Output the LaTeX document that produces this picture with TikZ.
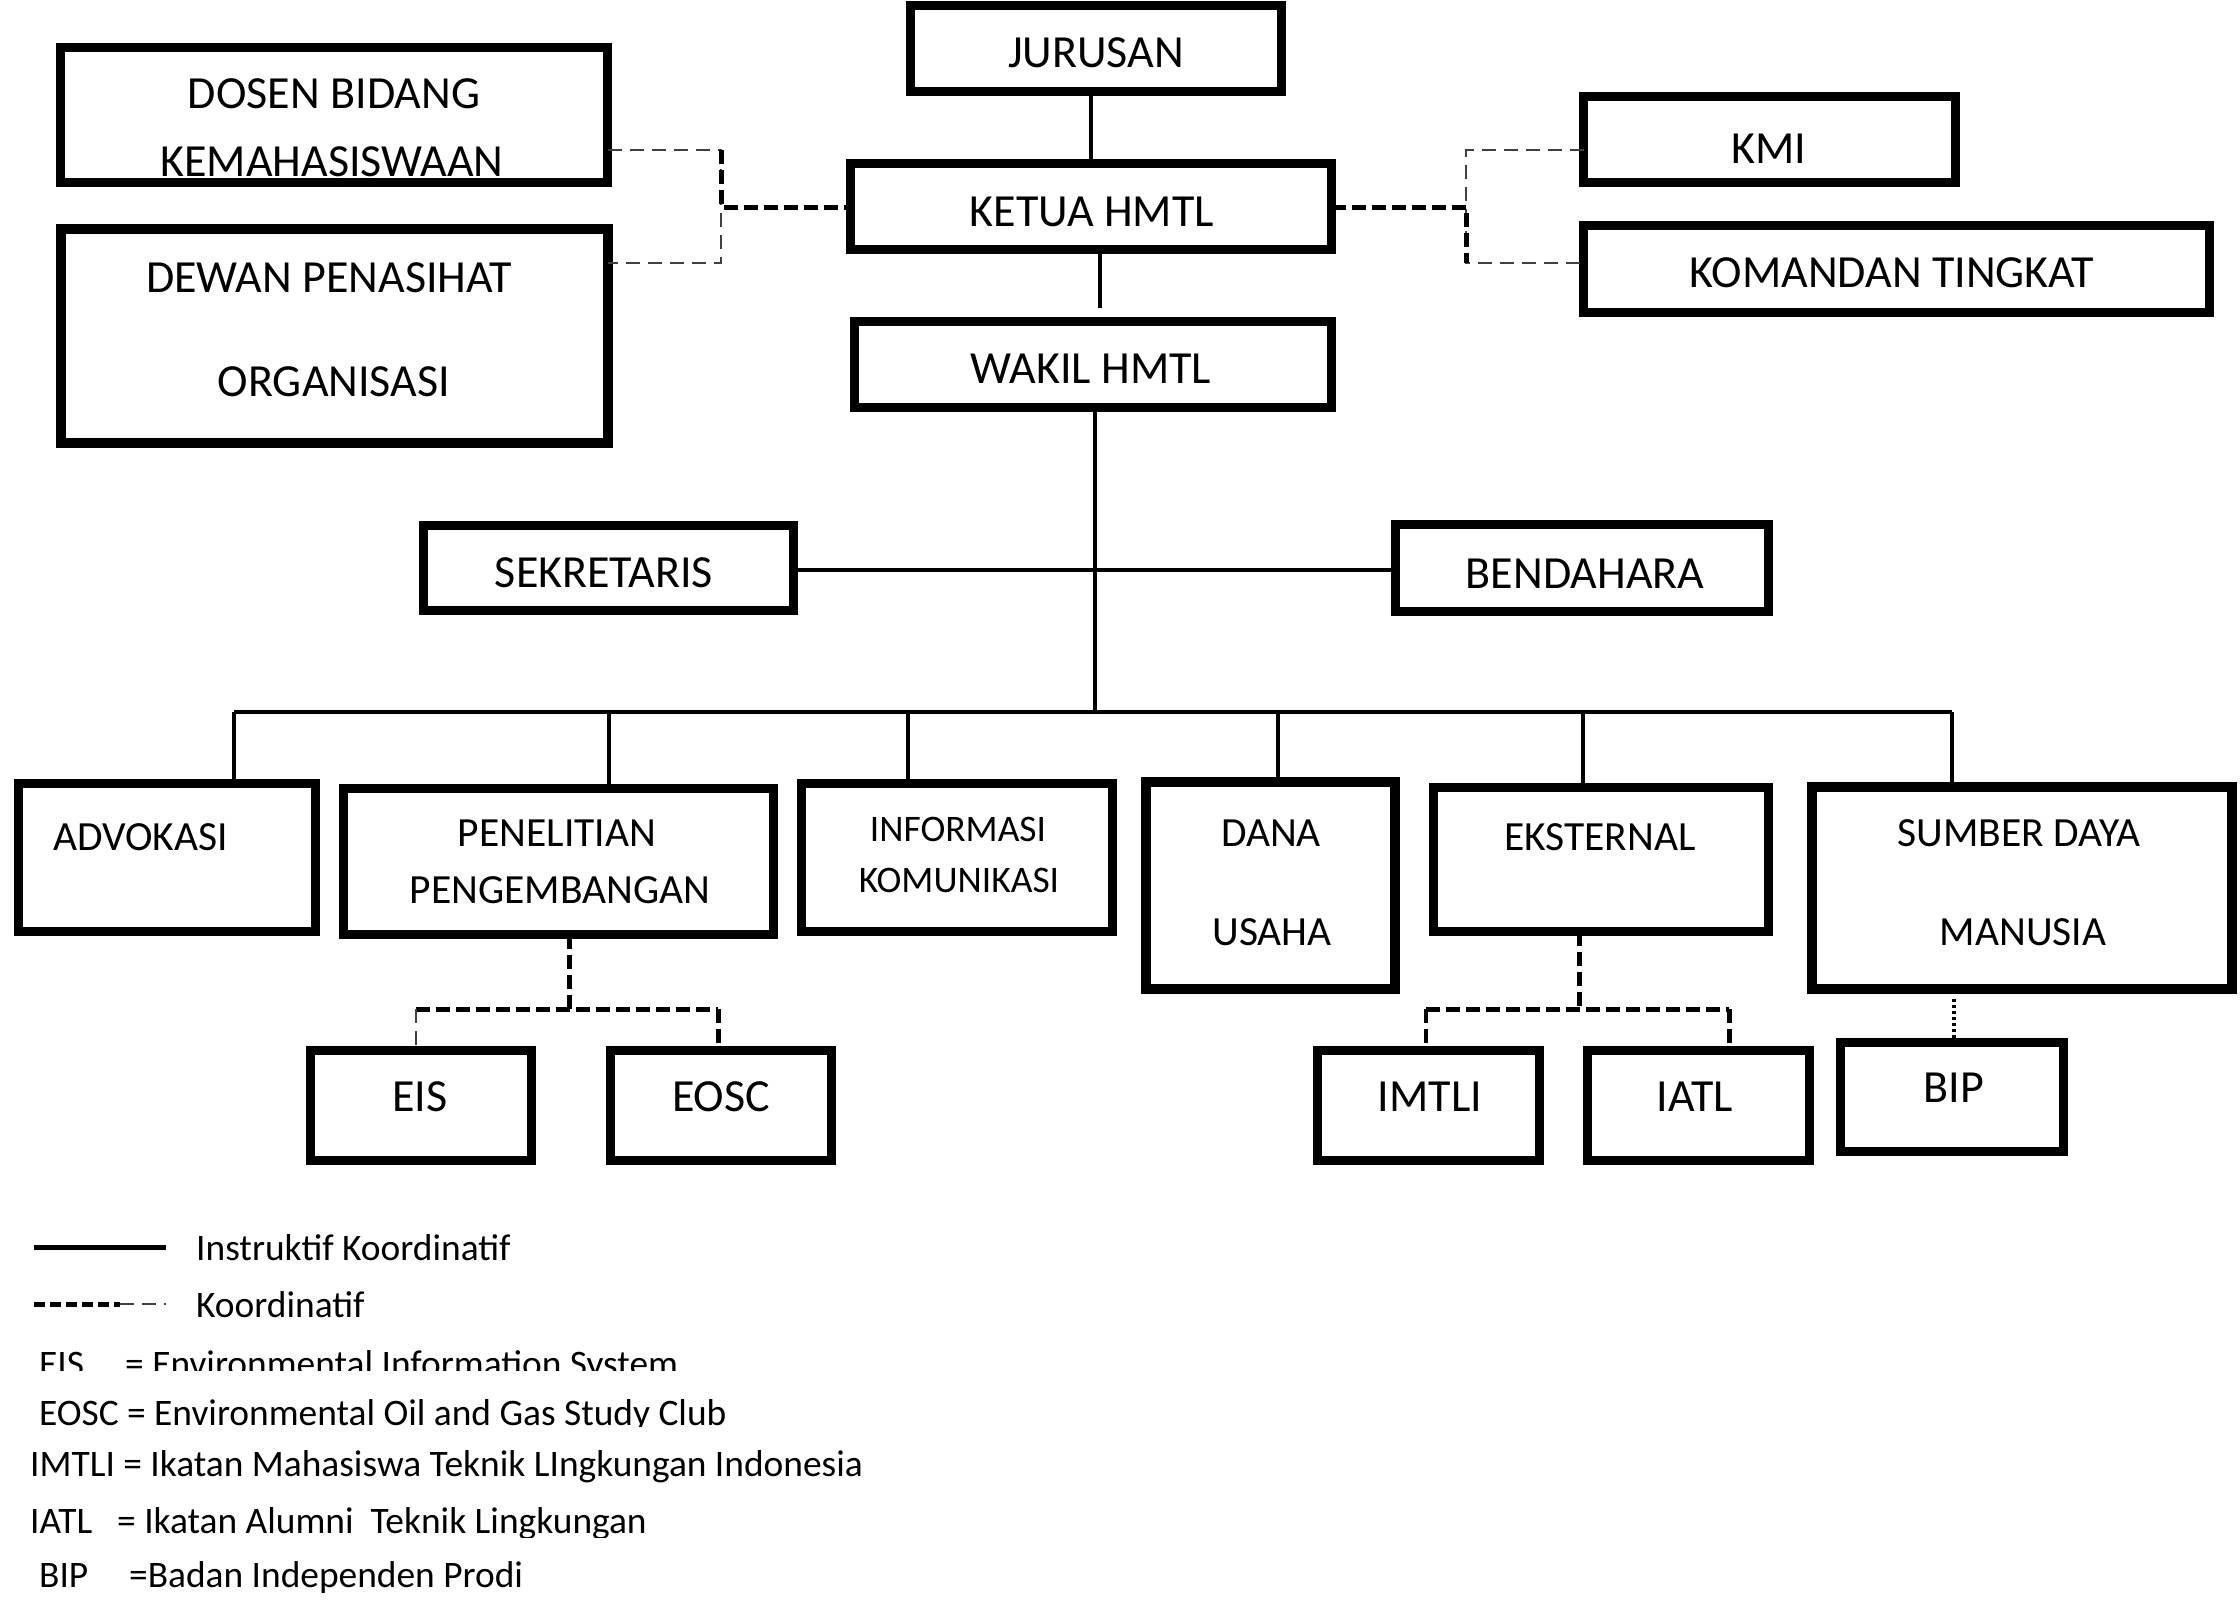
\documentclass[tikz,border=0pt]{standalone}
\usepackage{fontspec}
\setmainfont{Carlito}
\tikzset{
 box/.style={draw, line width=9pt, inner sep=0pt, outer sep=0pt, rectangle},
 lbl/.style={inner sep=0pt, font=\fontsize{46}{55}\selectfont, anchor=base},
 lmd/.style={lbl, font=\fontsize{41.5}{50}\selectfont},
 lsm/.style={lbl, font=\fontsize{37.5}{45}\selectfont},
 leg/.style={inner sep=0pt, anchor=base west, font=\fontsize{37.4}{45}\selectfont},
 conn/.style={line width=3.5pt},
 thickdash/.style={line width=5pt, dash pattern=on 14pt off 6pt},
 thindash/.style={line width=2pt, dash pattern=on 14pt off 8pt, black!75},
 dotl/.style={line width=3.5pt, dash pattern=on 3pt off 3pt},
}
\newcommand\ob[6][]{\node[box,#1,minimum width={#5-#3-9},minimum height={#6-#4-9}] (#2) at ({(#3+#5)/2},{(#4+#6)/2}) {};}
\begin{document}
\begin{tikzpicture}[x=1pt,y=-1pt]
\useasboundingbox (0,0) rectangle (2240,1609);
\fill[white] (0,0) rectangle (2240,1609);
% boxes
\ob{jur}{906}{1}{1286}{96}
\ob{dosen}{56}{43}{612}{187}
\ob[line width=10pt]{dewan}{56}{224}{612}{447}
\ob{ketua}{846}{159}{1336}{254}
\ob{wakil}{850}{317}{1336}{412}
\ob{kmi}{1579}{92}{1960}{187}
\ob{kom}{1579}{221}{2214}{317}
\ob{sek}{419}{521}{798}{615}
\ob{bend}{1391}{520}{1773}{616}
\ob{adv}{14}{779}{320}{936}
\ob{pen}{339}{784}{778}{939}
\ob{info}{797}{779}{1117}{936}
\ob[line width=10pt]{dana}{1141}{777}{1399}{993}
\ob{eks}{1429}{783}{1773}{936}
\ob[line width=10pt]{sdm}{1807}{782}{2236}{993}
\ob{eis}{306}{1046}{536}{1165}
\ob{eosc}{606}{1046}{836}{1165}
\ob{imtli}{1313}{1046}{1544}{1165}
\ob{iatl}{1583}{1046}{1814}{1165}
\ob{bip}{1836}{1038}{2068}{1156}
% texts
\node[lbl] (t-jur) at (1096,67) {JURUSAN};
\node[lbl] (t-dos1) at (334,108) {DOSEN BIDANG};
\node[lbl] (t-dos2) at (332,176) {KEMAHASISWAAN};
\node[lbl] (t-dew1) at (329,292) {DEWAN PENASIHAT};
\node[lbl] (t-dew2) at (334,396) {ORGANISASI};
\node[lbl] (t-ket) at (1092,226) {KETUA HMTL};
\node[lbl] (t-wak) at (1091,383) {WAKIL HMTL};
\node[lbl] (t-kmi) at (1769,163) {KMI};
\node[lbl] (t-kom) at (1892,287) {KOMANDAN TINGKAT};
\node[lbl] (t-sek) at (604,587) {SEKRETARIS};
\node[lbl] (t-ben) at (1585,588) {BENDAHARA};
\node[lmd, anchor=base west] (t-adv) at (53,850) {ADVOKASI};
\node[lmd] (t-pen1) at (557,846) {PENELITIAN};
\node[lmd] (t-pen2) at (560,903) {PENGEMBANGAN};
\node[lsm] (t-inf1) at (958,841) {INFORMASI};
\node[lsm] (t-inf2) at (959,892) {KOMUNIKASI};
\node[lmd] (t-dan1) at (1271,846) {DANA};
\node[lmd] (t-dan2) at (1272,945) {USAHA};
\node[lmd] (t-eks) at (1600,850) {EKSTERNAL};
\node[lmd] (t-sdm1) at (2019,846) {SUMBER DAYA};
\node[lmd] (t-sdm2) at (2023,945) {MANUSIA};
\node[lbl] (t-eis) at (420,1111) {EIS};
\node[lbl] (t-eosc) at (721,1111) {EOSC};
\node[lbl] (t-imt) at (1430,1111) {IMTLI};
\node[lbl] (t-iatl) at (1695,1111) {IATL};
\node[lbl] (t-bip) at (1954,1102) {BIP};
% solid connectors
\draw[conn] (jur.south -| ketua.north) -- (ketua.north);
\coordinate (kw) at (1100,308);
\draw[conn] (ketua.south -| kw) -- (kw);
\coordinate (bus) at (1095,712);
\draw[conn] (wakil.south -| bus) -- (bus);
\coordinate (sb) at (1095,570);
\draw[conn] (sek.east |- sb) -- (bend.west |- sb);
\foreach \n/\x in {adv/234, pen/609, info/908, dana/1278, eks/1583, sdm/1952}{
  \coordinate (d-\n) at (\x,712);
  \draw[conn] (d-\n) -- (\n.north -| d-\n);
}
\draw[conn] (d-adv) -- (d-sdm);
% top dashed
\coordinate (lt) at (721,150); \coordinate (lm) at (721,207); \coordinate (lb) at (721,263);
\draw[thindash] (dosen.east |- lt) -- (lt) -- (lb) -- (dewan.east |- lb);
\draw[thickdash] (lt) -- (lm) -- (ketua.west |- lm);
\coordinate (rt) at (1466,150); \coordinate (rm) at (1466,207); \coordinate (rb) at (1466,263);
\draw[thindash] (kmi.west |- rt) -- (rt) -- (rb) -- (kom.west |- rb);
\draw[thickdash] (ketua.east |- rm) -- (rm) -- (rb);
% lower dashed
\coordinate (pj) at (569,1009); \coordinate (pl) at (416,1009); \coordinate (pr) at (718,1009);
\draw[thickdash] (pen.south -| pj) -- (pj);
\draw[thickdash] (pl) -- (pr);
\draw[thindash] (pl) -- (eis.north -| pl);
\draw[thickdash] (pr) -- (eosc.north -| pr);
\coordinate (ej) at (1579,1009); \coordinate (el) at (1426,1009); \coordinate (er) at (1729,1009);
\draw[thickdash] (eks.south -| ej) -- (ej);
\draw[thickdash] (el) -- (er);
\draw[thickdash, line width=3.5pt] (el) -- (imtli.north -| el);
\draw[thickdash] (er) -- (iatl.north -| er);
\coordinate (bj) at (1954,999);
\draw[dotl] (bj) -- (bip.north -| bj);
% legend
\coordinate (la) at (34,1247); \coordinate (lb2) at (166,1247);
\draw[line width=5pt] (la) -- (lb2);
\coordinate (lc) at (34,1304); \coordinate (ld) at (120,1304); \coordinate (le) at (166,1304);
\draw[thickdash, dash pattern=on 11pt off 5pt] (lc) -- (ld);
\draw[thindash] (ld) -- (le);
\node[leg] (lg1) at (196,1260) {Instruktif Koordinatif};
\node[leg] (lg2) at (196,1317) {Koordinatif};
\begin{scope}
\clip (0,1330) rectangle (1200,1370);
\node[leg] (lg3a) at (39,1376) {EIS};
\node[leg] (lg3b) at (125,1376) {= Environmental Information System};
\end{scope}
\begin{scope}
\clip (0,1380) rectangle (1200,1426.5);
\node[leg] (lg4) at (39,1425) {EOSC = Environmental Oil and Gas Study Club};
\end{scope}
\node[leg] (lg5) at (30,1476) {IMTLI = Ikatan Mahasiswa Teknik LIngkungan Indonesia};
\begin{scope}
\clip (0,1490) rectangle (1200,1537);
\node[leg] (lg6a) at (30,1533) {IATL};
\node[leg] (lg6b) at (117,1533) {= Ikatan Alumni\ \ Teknik Lingkungan};
\end{scope}
\node[leg] (lg7a) at (39,1587) {BIP};
\node[leg] (lg7b) at (129,1587) {=Badan Independen Prodi};
\end{tikzpicture}
\end{document}
